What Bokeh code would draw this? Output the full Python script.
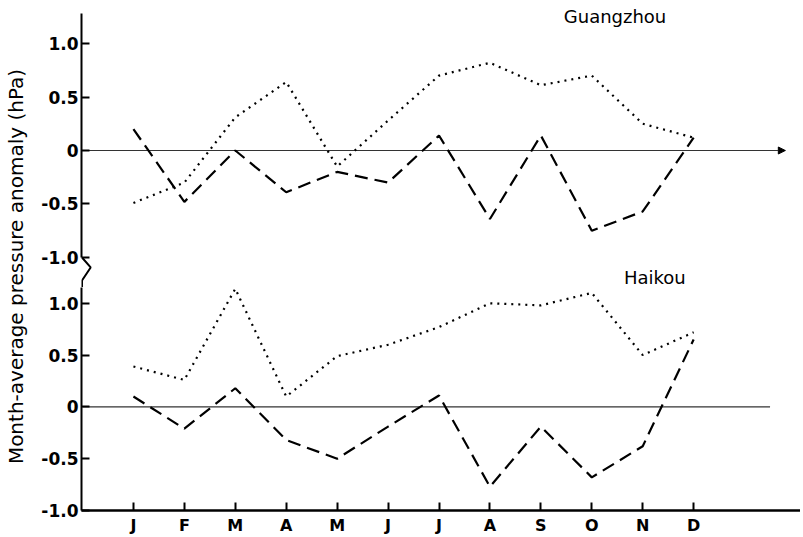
import math
from bokeh.plotting import figure
from bokeh.layouts import row, column
from bokeh.models import Range1d, FixedTicker, Label, Arrow, NormalHead
from bokeh.core.properties import value
from bokeh.embed import file_html
from bokeh.resources import INLINE

# ---------------- data ----------------
months = ["J", "F", "M", "A", "M", "J", "J", "A", "S", "O", "N", "D"]
month_pos = list(range(1, 13))

# Guangzhou (upper panel)
gz_dotted = [-0.49, -0.30, 0.31, 0.64, -0.15, 0.28, 0.70, 0.82, 0.61, 0.70, 0.25, 0.12]
gz_dashed = [0.20, -0.48, 0.0, -0.39, -0.20, -0.30, 0.14, -0.64, 0.14, -0.75, -0.57, 0.12]

# Haikou (lower panel)
hk_dotted = [0.39, 0.26, 1.14, 0.10, 0.49, 0.60, 0.77, 1.00, 0.98, 1.10, 0.50, 0.72]
hk_dashed = [0.10, -0.21, 0.18, -0.32, -0.50, -0.19, 0.11, -0.77, -0.19, -0.68, -0.38, 0.65]

y_ticks = [-1.0, -0.5, 0.0, 0.5, 1.0]
y_tick_labels = ["-1.0", "-0.5", "0", "0.5", "1.0"]
y_label = "Month-average pressure anomaly (hPa)"
panel_names = ["Guangzhou", "Haikou"]

zero_top_x = [0.0, 13.8]
zero_bottom_x = [0.0, 13.5]
zero_y = [0.0, 0.0]
axis_break_x = [-0.01, 0.16, -0.01, -0.01]
axis_break_y = [-1.0, -1.093, -1.215, -1.29]

FONT = "DejaVu Sans"
xr = Range1d(-0.0196, 14.098)


def style_y(p):
    ax = p.yaxis[0]
    ax.ticker = FixedTicker(ticks=y_ticks)
    ax.major_label_overrides = {t: l for t, l in zip(y_ticks, y_tick_labels)}
    ax.axis_line_width = 2
    ax.axis_line_color = "black"
    ax.major_tick_in = 8
    ax.major_tick_out = 0
    ax.major_tick_line_width = 2
    ax.minor_tick_line_color = None
    ax.major_label_standoff = 3
    ax.major_label_text_font = FONT
    ax.major_label_text_font_style = "bold"
    ax.major_label_text_font_size = "17px"
    ax.major_label_text_color = "black"


# ---------------- label column ----------------
lab = figure(width=38, height=537, x_range=Range1d(0, 38), y_range=Range1d(0, 537),
             toolbar_location=None, output_backend="svg", min_border=0,
             x_axis_location=None, y_axis_location=None)
lab.grid.visible = False
lab.outline_line_color = None
lab.text(x=[15], y=[271], text=[y_label], angle=math.pi / 2, text_align="center",
         text_baseline="middle", text_font=value(FONT), text_font_size="20px",
         text_color="black")

# ---------------- top panel ----------------
top = figure(width=762, height=287, x_range=xr, y_range=Range1d(-1.2804, 1.4019),
             toolbar_location=None, output_backend="svg", x_axis_location=None,
             min_border_left=42, min_border_right=0, min_border_top=0, min_border_bottom=0)
top.grid.visible = False
top.outline_line_color = None
style_y(top)
top.yaxis[0].bounds = (-1.0, 1.280)

top.line(zero_top_x, zero_y, line_color="#333333", line_width=1)
top.add_layout(Arrow(end=NormalHead(size=7, fill_color="black", line_color="black"),
                     x_start=13.5, y_start=0, x_end=13.8, y_end=0,
                     line_color="#333333", line_width=1))
top.line(month_pos, gz_dotted, line_color="black", line_width=2.2, line_dash="2 5")
top.line(month_pos, gz_dashed, line_color="black", line_width=2.2, line_dash="13 7")
top.line(axis_break_x, axis_break_y, line_color="black", line_width=2)
top.add_layout(Label(x=9.45, y=1.257, text=panel_names[0], text_font=FONT,
                     text_font_size="18px", text_align="left", text_baseline="middle",
                     text_color="black"))
top.add_layout(Label(x=10.63, y=-1.187, text=panel_names[1], text_font=FONT,
                     text_font_size="18px", text_align="left", text_baseline="middle",
                     text_color="black"))

# ---------------- bottom panel ----------------
bot = figure(width=762, height=250, x_range=xr, y_range=Range1d(-1.0, 1.1524),
             toolbar_location=None, output_backend="svg",
             min_border_left=42, min_border_right=0, min_border_top=0, min_border_bottom=24)
bot.grid.visible = False
bot.outline_line_color = None
style_y(bot)

xa = bot.xaxis[0]
xa.ticker = FixedTicker(ticks=month_pos)
xa.major_label_overrides = {m: n for m, n in zip(month_pos, months)}
xa.axis_line_width = 2.5
xa.axis_line_color = "black"
xa.major_tick_in = 8
xa.major_tick_out = 0
xa.major_tick_line_width = 2
xa.minor_tick_line_color = None
xa.major_label_standoff = 5
xa.major_label_text_font = FONT
xa.major_label_text_font_style = "bold"
xa.major_label_text_font_size = "16px"
xa.major_label_text_color = "black"

bot.line(zero_bottom_x, zero_y, line_color="#333333", line_width=1.2)
bot.line(month_pos, hk_dotted, line_color="black", line_width=2.2, line_dash="2 5")
bot.line(month_pos, hk_dashed, line_color="black", line_width=2.2, line_dash="13 7")

layout = row(lab, column(top, bot))

open("out.html", "w").write(file_html(layout, INLINE))
